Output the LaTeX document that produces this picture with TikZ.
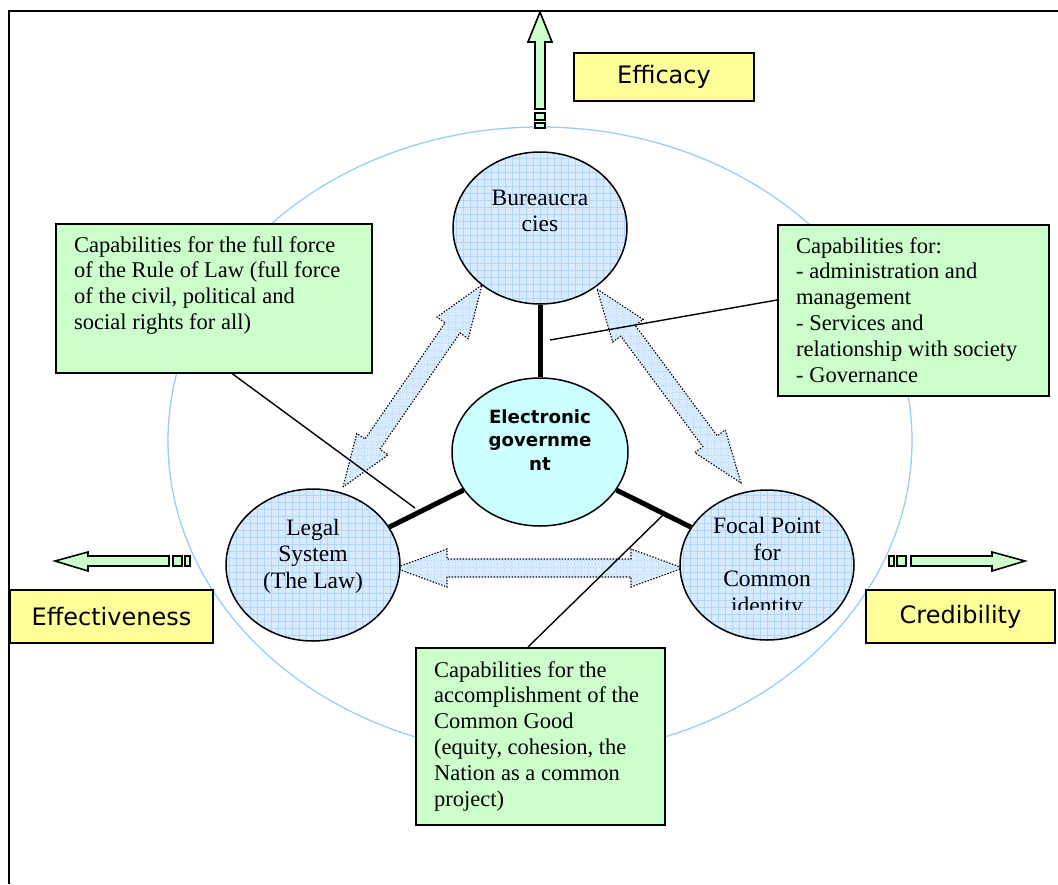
\documentclass[tikz,border=0pt]{standalone}
\usepackage{fontspec}
\setmainfont{Liberation Serif}
\newfontfamily\verd{DejaVu Sans}
\usetikzlibrary{calc,shapes.geometric}

\definecolor{gfill}{HTML}{CCFFCC}
\definecolor{yfill}{HTML}{FFFF99}
\definecolor{bfill}{HTML}{D9ECFF}
\definecolor{bgrid}{HTML}{B0D6FF}
\definecolor{efill}{HTML}{CCFFFF}
\definecolor{ering}{HTML}{99CCFF}

\tikzset{
  gridfill/.style={fill=bfill, path picture={\draw[bgrid, line width=0.5pt]
      (path picture bounding box.south west) grid[step=7pt]
      (path picture bounding box.north east);}},
  circ/.style={ellipse, draw, line width=1.5pt, gridfill, inner sep=0pt},
  ctext/.style={align=center, font=\fontsize{23.5}{26.5}\selectfont, inner sep=0pt},
  btext/.style={align=left, anchor=north west, font=\fontsize{22.5}{25.8}\selectfont, inner sep=0pt},
  gbox/.style={draw, line width=1.5pt, fill=gfill, anchor=north west, inner sep=0pt},
  ybox/.style={draw, line width=1.2pt, fill=yfill, inner sep=0pt, font=\verd\fontsize{24}{28}\selectfont},
  bigarr/.style={draw, line width=1.6pt, fill=gfill, line join=miter},
  dotarr/.style={gridfill, draw=black, line width=1.1pt, dash pattern=on 1.4pt off 1.6pt},
  thickcon/.style={line width=5pt},
  thincon/.style={line width=1.4pt},
}

\newcommand\dblarrow[2]{%
  \path ($(#1)!52pt!(#2)$) coordinate (p1) ($(#2)!52pt!(#1)$) coordinate (p2);
  \draw[dotarr] (#1) -- ($(p1)!19pt!90:(#2)$) -- ($(p1)!9pt!90:(#2)$)
    -- ($(p2)!9pt!-90:(#1)$) -- ($(p2)!19pt!-90:(#1)$) -- (#2)
    -- ($(p2)!19pt!90:(#1)$) -- ($(p2)!9pt!90:(#1)$)
    -- ($(p1)!9pt!-90:(#2)$) -- ($(p1)!19pt!-90:(#2)$) -- cycle;}

\begin{document}
\begin{tikzpicture}[x=1pt,y=-1pt]
\useasboundingbox (0,0) rectangle (1058,884);

% frame
\draw[line width=2pt] (9,884) -- (9,11) -- (1058,11);

% outer ring
\node[ellipse, draw=ering, line width=1.3pt, minimum width=744, minimum height=628, inner sep=0pt] (ring) at (540,441) {};

% big green arrows
\draw[bigarr] (540,12) -- (552,42) -- (545,42) -- (545,109) -- (535,109) -- (535,42) -- (528,42) -- cycle;
\draw[bigarr] (535,113) rectangle (545,120);
\draw[bigarr] (535,123) rectangle (545,128);

\draw[bigarr] (55,561) -- (88,552) -- (88,556) -- (169,556) -- (169,566) -- (88,566) -- (88,571) -- cycle;
\draw[bigarr] (173,556) rectangle (182,566);
\draw[bigarr] (185,556) rectangle (190,566);

\draw[bigarr] (1025,561) -- (992,552) -- (992,556) -- (911,556) -- (911,566) -- (992,566) -- (992,571) -- cycle;
\draw[bigarr] (897,556) rectangle (906,566);
\draw[bigarr] (889,556) rectangle (894,566);

% yellow boxes
\node[ybox, minimum width=180, minimum height=48] (efficacy) at (664,77) {Efficacy};
\node[ybox, minimum width=203, minimum height=53] (effect) at (111.5,616.5) {Effectiveness};
\node[ybox, minimum width=189, minimum height=53] (cred) at (960.5,616.5) {Credibility};

% dotted double arrows
\coordinate (la) at (343,487);
\coordinate (lb) at (482,285);
\coordinate (ra) at (597,289);
\coordinate (rb) at (741,483);
\coordinate (ha) at (395,568);
\coordinate (hb) at (683,568);
\dblarrow{la}{lb}
\dblarrow{ra}{rb}
\dblarrow{ha}{hb}

% circles
\node[circ, minimum width=174, minimum height=152] (bur) at (540,228) {};
\node[circ, minimum width=176, minimum height=148, fill=efill, path picture={}] (egov) at (540,452) {};
\node[circ, minimum width=174, minimum height=152] (legal) at (313,565) {};
\node[circ, minimum width=174, minimum height=150] (focal) at (767,565) {};

\node[ctext] (burtxt) at (540,211) {Bureaucra\\cies};
\node[ctext] (legaltxt) at (313,556) {Legal\\System\\(The Law)};
\node[align=center, inner sep=0pt, font=\verd\bfseries\fontsize{18.2}{23.5}\selectfont] (egovtxt) at (540,440) {Electronic\\governme\\nt};
\begin{scope}
  \clip (600,480) rectangle (940,609);
  \node[ctext] (focaltxt) at (767,568) {Focal Point\\for\\Common\\identity};
\end{scope}

% thick connectors
\draw[thickcon] (bur) -- (egov);
\draw[thickcon] (egov) -- (legal);
\draw[thickcon] (egov) -- (focal);

% green boxes
\node[gbox, minimum width=316, minimum height=149] (lbox) at (55,223) {};
\node[btext] (ltxt) at (74,236) {Capabilities for the full force\\of the Rule of Law (full force\\of the civil, political and\\social rights for all)};

\node[gbox, minimum width=271, minimum height=171] (rbox) at (777,224) {};
\node[btext] (rtxt) at (796,237) {Capabilities for:\\- administration and\\management\\- Services and\\relationship with society\\- Governance};

\node[gbox, minimum width=249, minimum height=177] (bbox) at (415,647) {};
\node[btext] (btxt) at (434,661) {Capabilities for the\\accomplishment of the\\Common Good\\(equity, cohesion, the\\Nation as a common\\project)};

% thin callout lines
\coordinate (lend) at (415,508);
\coordinate (rend) at (550,340);
\coordinate (bend) at (663,515);
\draw[thincon] ($(lbox.south west)+(177,0)$) -- (lend);
\draw[thincon] ($(rbox.north west)+(0,76)$) -- (rend);
\draw[thincon] ($(bbox.north west)+(113,0)$) -- (bend);
\end{tikzpicture}
\end{document}
